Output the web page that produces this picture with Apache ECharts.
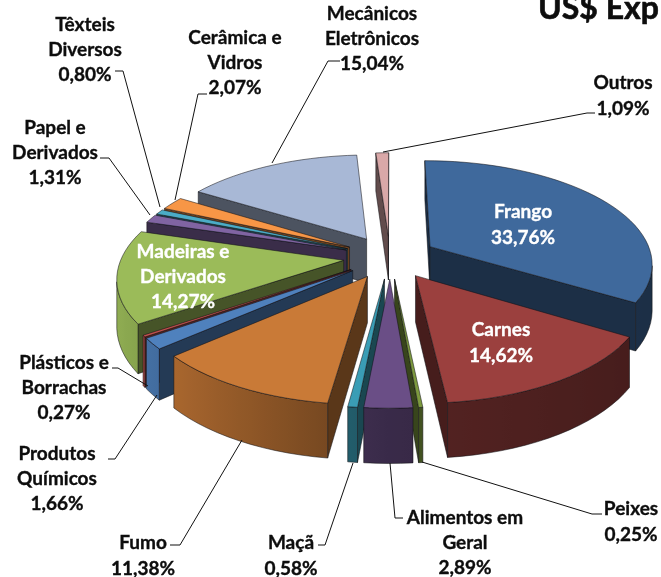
<!DOCTYPE html>
<html>
<head>
<meta charset="utf-8">
<style>
  html, body { margin: 0; padding: 0; background: #fff; }
  #chart { width: 661px; height: 577px; overflow: hidden; }
</style>
</head>
<body>
<div id="chart"></div>
<script src="https://cdn.jsdelivr.net/npm/echarts@6/dist/echarts.min.js"></script>
<script>
const categories = ['Frango', 'Carnes', 'Peixes', 'Alimentos em\nGeral', 'Maçã', 'Fumo', 'Produtos\nQuímicos',
  'Plásticos e\nBorrachas', 'Madeiras e\nDerivados', 'Papel e\nDerivados', 'Têxteis\nDiversos', 'Cerâmica e\nVidros',
  'Mecânicos\nEletrônicos', 'Outros']
const shares = [33.76, 14.62, 0.25, 2.89, 0.58, 11.38, 1.66, 0.27, 14.27, 1.31, 0.80, 2.07, 15.04, 1.09]
const titleText = 'US$ Exp'

// Top face colors, same order as categories
const COLORS = ['#3F699C', '#9B403E', '#7D9A3F', '#6A4E86', '#3A9DB5', '#C97A37', '#4F81BD',
  '#C0504D', '#9BBB59', '#8064A2', '#4BACC6', '#F79646', '#A8B8D6', '#D9A8A8']

// Label centers and leader lines, in pixels
const LABEL_POS = [[523, 225], [501, 343], [631, 522], [465, 543], [291, 556], [143, 556], [57, 479],
  [64, 388], [183, 277], [55, 153], [85, 50], [235, 63], [372, 39], [623, 96]]
const LEADERS = [null, null,
  [[602, 514], [592, 514], [422, 462]],
  [[403, 518], [395, 518], [390, 463]],
  [[318, 545], [325, 545], [353, 463]],
  [[170, 545], [180, 545], [242, 440]],
  [[108, 459], [115, 459], [157, 395]],
  [[112, 368], [118, 368], [148, 386]],
  null,
  [[100, 158], [109, 158], [150, 215]],
  [[115, 71], [123, 71], [160, 207]],
  [[207, 94], [198, 94], [175, 200]],
  [[340, 61], [328, 61], [272, 163]],
  [[595, 113], [587, 113], [383, 152]]]
const INNER = [0, 1, 8]

// Perspective pie, radius 1
const EXPLODE = 0.21
const PERSP = 0.152
const WALL = 0.442
const STEP = 3
const FONT = 'Lato, sans-serif'
const EDGE = 'rgba(15,15,20,0.75)'

const total = shares.reduce((a, b) => a + b, 0)
const rad = d => d * Math.PI / 180
let acc = 0
const slices = shares.map((v, i) => {
  const start = acc / total * 360
  acc += v
  return { i, start, end: acc / total * 360, mid: (start + (acc / total * 360)) / 2 }
})
// back slices are painted first
const order = slices.slice().sort((a, b) => -Math.cos(rad(a.mid)) - -Math.cos(rad(b.mid))).map(s => s.i)

function shade(hex, f) {
  const n = parseInt(hex.slice(1), 16)
  const c = s => Math.round(((n >> s) & 255) * f)
  return `rgb(${c(16)},${c(8)},${c(0)})`
}

function wallShade(deg) {
  const s = Math.sin(rad(deg))
  return s > 0 ? 0.54 - 0.1 * s : 0.54 - 0.4 * s
}

function area(p) {
  let a = 0
  p.forEach((q, j) => {
    const r = p[(j + 1) % p.length]
    a += q[0] * r[1] - r[0] * q[1]
  })
  return a / 2
}

function renderSlice(params, api) {
  const s = slices[api.value(0)]
  const ox = EXPLODE * Math.sin(rad(s.mid))
  const oy = -EXPLODE * Math.cos(rad(s.mid))
  const pt = (r, deg, low) => {
    const x = ox + r * Math.sin(rad(deg))
    const y = oy - r * Math.cos(rad(deg))
    const w = 1 - PERSP * y
    return api.coord([x / w, (y + (low ? WALL : 0)) / w])
  }
  const color = COLORS[s.i]
  const children = []
  const poly = (points, fill, stroke) => children.push({
    type: 'polygon',
    shape: { points },
    style: { fill, stroke: stroke || fill, lineWidth: 0.7 },
    silent: true,
  })

  const angles = []
  const n = Math.max(1, Math.ceil((s.end - s.start) / STEP))
  for (let j = 0; j <= n; j++) angles.push(s.start + (s.end - s.start) * j / n)

  const radialFill = shade(color, 0.45)
  const a = [pt(0, 0, false), pt(0, 0, true)]
  const q0 = [a[0], pt(1, s.start, false), pt(1, s.start, true), a[1]]
  if (area(q0) < 0) poly(q0, radialFill, EDGE)
  const q1 = [pt(1, s.end, false), a[0], a[1], pt(1, s.end, true)]
  if (area(q1) < 0) poly(q1, radialFill, EDGE)

  // outer wall: one shape, shaded along x
  const rimTop = []
  const rimLow = []
  const rimAngles = []
  for (let j = 0; j < n; j++) {
    const q = [pt(1, angles[j], false), pt(1, angles[j + 1], false), pt(1, angles[j + 1], true), pt(1, angles[j], true)]
    if (area(q) < 0) {
      if (!rimTop.length) {
        rimTop.push(q[0])
        rimLow.push(q[3])
        rimAngles.push(angles[j])
      }
      rimTop.push(q[1])
      rimLow.push(q[2])
      rimAngles.push(angles[j + 1])
    }
  }
  if (rimTop.length) {
    const xs = rimTop.map(p => p[0])
    const x0 = Math.min(...xs)
    const x1 = Math.max(...xs)
    const stops = rimAngles
      .map((d, j) => ({ offset: x1 > x0 ? (xs[j] - x0) / (x1 - x0) : 0, color: shade(color, wallShade(d)) }))
      .sort((p, q) => p.offset - q.offset)
    poly(rimTop.concat(rimLow.slice().reverse()),
      new echarts.graphic.LinearGradient(0, 0, 1, 0, stops), EDGE)
  }

  const top = []
  angles.forEach(d => top.push(pt(1, d, false)))
  poly([a[0]].concat(top), color, EDGE)
  return { type: 'group', children }
}

function labelText(i) {
  return categories[i] + '\n' + shares[i].toFixed(2).replace('.', ',') + '%'
}

function buildGraphic() {
  const out = []
  LEADERS.forEach(points => {
    if (!points) return
    out.push({
      type: 'polyline',
      z: 20,
      shape: { points },
      style: { fill: 'none', stroke: '#111', lineWidth: 1 },
      silent: true,
    })
  })
  categories.forEach((c, i) => {
    const col = INNER.includes(i) ? '#fff' : '#0d0d0d'
    out.push({
      type: 'text',
      z: 30,
      x: LABEL_POS[i][0],
      y: LABEL_POS[i][1],
      style: {
        text: labelText(i),
        font: `bold 19px ${FONT}`,
        lineHeight: 25.3,
        align: 'center',
        verticalAlign: 'middle',
        fill: col,
        stroke: col,
        lineWidth: 0.35,
      },
      silent: true,
    })
  })
  out.push({
    type: 'text',
    z: 30,
    x: 538,
    y: 9,
    style: {
      text: titleText,
      font: `bold 32px ${FONT}`,
      align: 'left',
      verticalAlign: 'middle',
      fill: '#0d0d0d',
      stroke: '#0d0d0d',
      lineWidth: 0.6,
    },
    silent: true,
  })
  return out
}

const chart = echarts.init(document.getElementById('chart'), null, { renderer: 'canvas' })
chart.setOption({
  animation: false,
  backgroundColor: '#fff',
  tooltip: { show: false },
  // one axis unit is one radius in perspective space
  grid: { left: 168, right: 49, top: 155, bottom: 218 },
  xAxis: { type: 'value', min: -1, max: 1, show: false },
  yAxis: { type: 'value', min: -1, max: 1, inverse: true, show: false },
  series: [{
    type: 'custom',
    coordinateSystem: 'cartesian2d',
    clip: false,
    silent: true,
    renderItem: renderSlice,
    encode: { x: 0, y: 0 },
    data: order.map(i => [i]),
  }],
  graphic: { elements: buildGraphic() },
})
</script>
</body>
</html>
